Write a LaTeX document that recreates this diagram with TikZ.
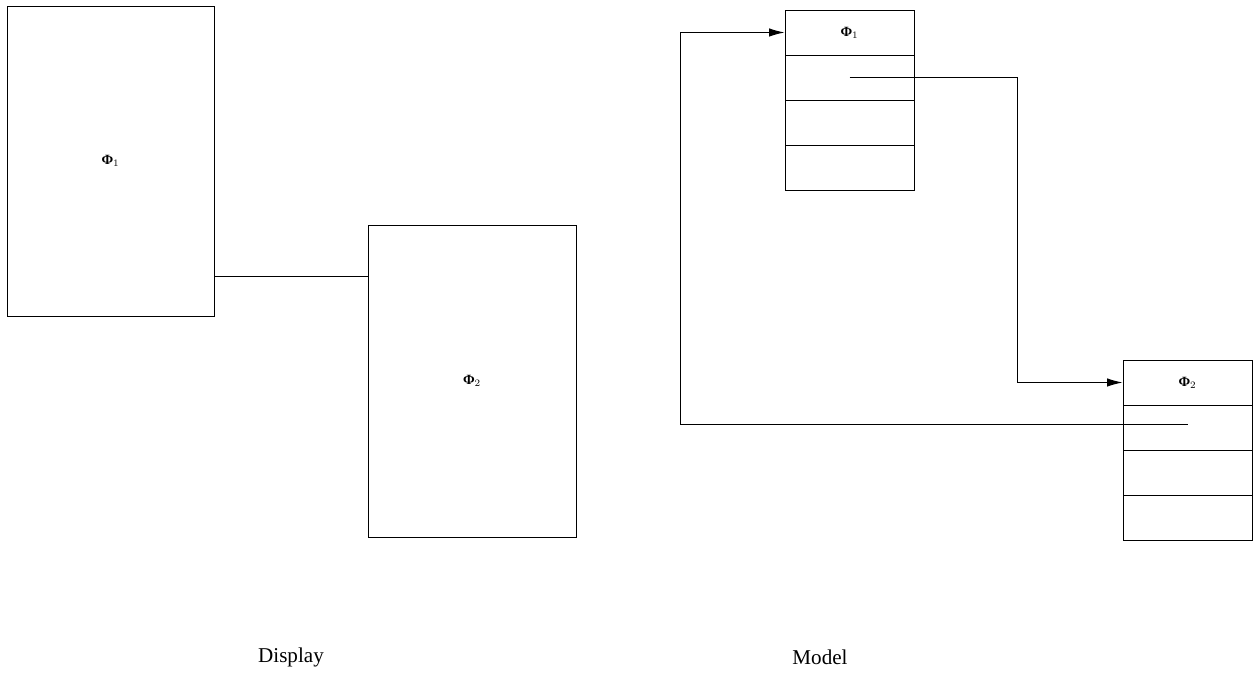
\documentclass[tikz,border=0pt]{standalone}
\usepackage{fontspec}
\setmainfont{Liberation Serif}
\usetikzlibrary{arrows.meta,calc,positioning}
\tikzset{>={Latex[length=11pt,width=6pt]}}
\tikzstyle{panel}=[rectangle,draw=black,line width=0.7pt,inner sep=0pt]
\tikzstyle{slot}=[rectangle,draw=black,line width=0.7pt,inner sep=0pt,minimum width=129*0.025cm,minimum height=45*0.025cm]
\tikzstyle{link}=[draw=black,line width=0.7pt]
\tikzstyle{caption}=[font=\fontsize{15}{18}\selectfont]
\newcommand{\phiname}[1]{{\bfseries Φ}$_{#1}$}

\begin{document}
\begin{tikzpicture}[x=0.025cm,y=-0.025cm,font=\fontsize{10}{12}\selectfont]
\def \slotw {129};
\def \sloth {45};
\useasboundingbox (0,0) rectangle (1258,681);

% display side
\node[panel,minimum width=207*0.025cm,minimum height=310*0.025cm] (D1) at (110.5,161) {\phiname{1}};
\node[panel,minimum width=208*0.025cm,minimum height=312*0.025cm] (D2) at (472,381) {\phiname{2}};
\coordinate (joint) at ([yshift=-52*0.025cm]D2.north west);
\draw[link] (joint -| D1.east) -- (joint);

% model side
\foreach \i in {1,...,4} {
	\node[slot] (A\i) at (849.5, 10 + \sloth * \i - \sloth/2) {};
	\node[slot] (B\i) at (1187.5, 360 + \sloth * \i - \sloth/2) {};
};
\node at (A1) {\phiname{1}};
\node at (B1) {\phiname{2}};

\draw[link,->] (A2.center) -| ($(B1.west)+(-105,0)$) -- (B1.west);
\draw[link,->] ([yshift=3*0.025cm]B2.center) -| ($(A1.west)+(-104,0)$) -- (A1.west);

\node[caption] (disp) at (291,657) {Display};
\node[caption] (mod) at (820,657) {Model};

\end{tikzpicture}
\end{document}
